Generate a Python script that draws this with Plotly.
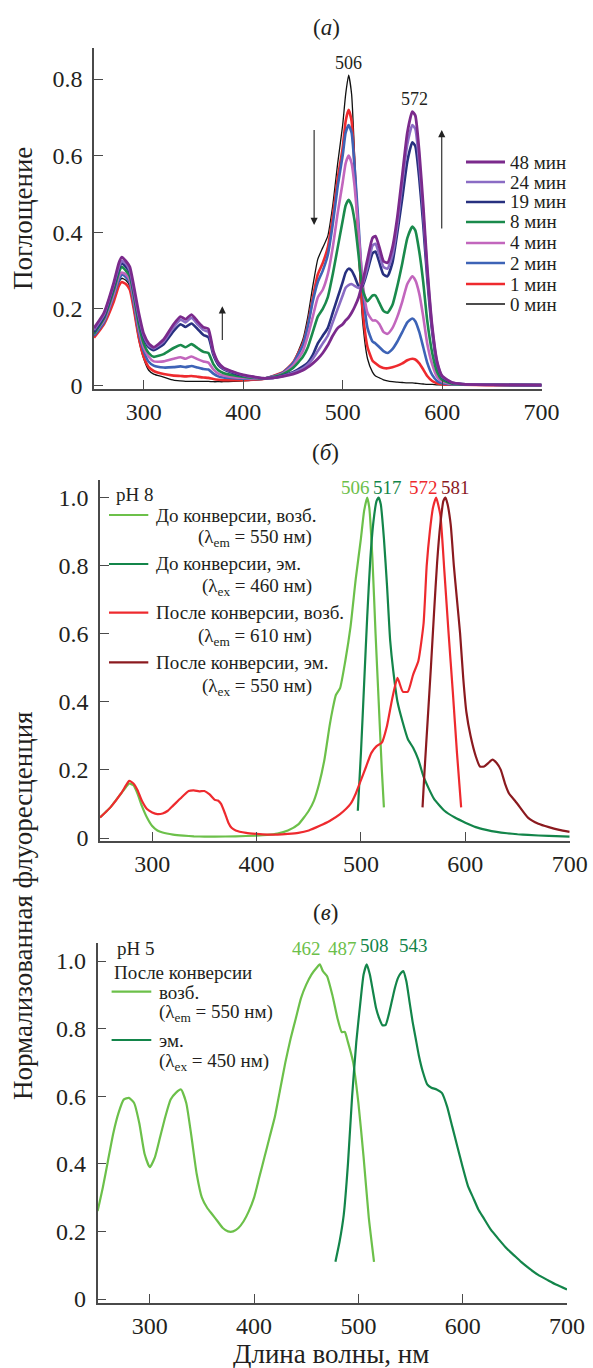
import plotly.graph_objects as go

W, H = 593, 1368
FONT = "Liberation Serif, Times New Roman, Tinos, DejaVu Serif, serif"
TXT = "#231f20"

# ---------------- Panel (a): absorbance ----------------
WL_A = [250, 260, 270, 275, 278, 282, 286, 290, 295, 300, 305, 310, 320, 330, 337, 342, 348, 354, 360, 365,
        370, 375, 380, 390, 400, 410, 420,
        430, 440, 450, 460, 465, 470, 475, 480, 485, 490, 495, 500, 503, 506, 509, 512, 516, 520, 525, 530,
        533, 537, 541, 545, 550, 555, 560, 565, 570, 573, 577, 581, 585, 590, 595, 600, 610, 620, 650, 700]

A_0 = [0.13, 0.165, 0.23, 0.27, 0.28, 0.275, 0.26, 0.2, 0.12, 0.07, 0.04, 0.03, 0.022, 0.014, 0.012, 0.011, 0.011, 0.011, 0.011, 0.011,
       0.01, 0.01, 0.01, 0.011, 0.012, 0.014, 0.017,
       0.025, 0.035, 0.06, 0.12, 0.18, 0.26, 0.33, 0.36, 0.39, 0.47, 0.58, 0.68, 0.76, 0.81, 0.76, 0.6, 0.35, 0.17, 0.07, 0.035,
       0.025, 0.02, 0.015, 0.012, 0.01, 0.009, 0.008, 0.007, 0.007, 0.006, 0.005, 0.004, 0.003, 0.003, 0.002, 0.002, 0.002, 0.002, 0.001, 0.001]
A_1 = [0.125, 0.16, 0.22, 0.26, 0.27, 0.265, 0.25, 0.2, 0.125, 0.075, 0.048, 0.038, 0.03, 0.026, 0.025, 0.024, 0.025, 0.023, 0.021, 0.02,
       0.017, 0.015, 0.014, 0.014, 0.014, 0.015, 0.017,
       0.025, 0.035, 0.06, 0.11, 0.16, 0.23, 0.29, 0.32, 0.36, 0.44, 0.54, 0.62, 0.69, 0.72, 0.69, 0.57, 0.38, 0.2, 0.1, 0.065,
       0.058, 0.05, 0.046, 0.045, 0.048, 0.052, 0.058, 0.066, 0.07, 0.068, 0.058, 0.042, 0.025, 0.012, 0.006, 0.003, 0.002, 0.002, 0.001, 0.001]
A_2 = [0.13, 0.165, 0.235, 0.275, 0.29, 0.283, 0.268, 0.215, 0.14, 0.09, 0.062, 0.052, 0.047, 0.048, 0.05, 0.048, 0.051, 0.047, 0.043, 0.042,
       0.031, 0.024, 0.021, 0.019, 0.018, 0.017, 0.018,
       0.024, 0.034, 0.058, 0.105, 0.155, 0.22, 0.27, 0.3, 0.34, 0.42, 0.52, 0.6, 0.66, 0.68, 0.66, 0.57, 0.42, 0.26, 0.15, 0.115,
       0.11, 0.1, 0.09, 0.085, 0.095, 0.115, 0.14, 0.165, 0.175, 0.168, 0.14, 0.1, 0.06, 0.028, 0.012, 0.006, 0.003, 0.002, 0.002, 0.001]
A_4 = [0.135, 0.17, 0.24, 0.285, 0.295, 0.29, 0.275, 0.225, 0.15, 0.1, 0.075, 0.063, 0.063, 0.07, 0.074, 0.07, 0.076, 0.069, 0.063, 0.06,
       0.042, 0.031, 0.026, 0.022, 0.02, 0.018, 0.018,
       0.023, 0.032, 0.052, 0.09, 0.13, 0.18, 0.23, 0.25, 0.29, 0.36, 0.45, 0.53, 0.58, 0.6, 0.58, 0.52, 0.4, 0.27, 0.19, 0.17,
       0.17, 0.16, 0.14, 0.135, 0.15, 0.18, 0.22, 0.265, 0.285, 0.275, 0.24, 0.18, 0.11, 0.055, 0.022, 0.01, 0.004, 0.003, 0.002, 0.001]
A_8 = [0.135, 0.175, 0.25, 0.295, 0.31, 0.3, 0.285, 0.235, 0.16, 0.11, 0.085, 0.075, 0.082, 0.098, 0.106, 0.1, 0.108, 0.098, 0.088, 0.085,
       0.056, 0.04, 0.033, 0.027, 0.023, 0.02, 0.018,
       0.022, 0.03, 0.046, 0.075, 0.1, 0.14, 0.18, 0.2, 0.23, 0.29, 0.36, 0.43, 0.47, 0.485, 0.47, 0.43, 0.34, 0.25, 0.22, 0.235,
       0.235, 0.215, 0.195, 0.19, 0.21, 0.26, 0.32, 0.385, 0.415, 0.405, 0.35, 0.27, 0.17, 0.085, 0.035, 0.015, 0.005, 0.003, 0.002, 0.001]
A_19 = [0.14, 0.18, 0.26, 0.305, 0.32, 0.31, 0.295, 0.245, 0.175, 0.125, 0.1, 0.092, 0.108, 0.142, 0.16, 0.153, 0.162, 0.148, 0.132, 0.126,
        0.08, 0.054, 0.043, 0.033, 0.026, 0.022, 0.019,
        0.02, 0.026, 0.035, 0.05, 0.06, 0.08, 0.11, 0.13, 0.15, 0.19, 0.23, 0.27, 0.295, 0.305, 0.3, 0.285, 0.26, 0.26, 0.3, 0.345,
        0.35, 0.32, 0.29, 0.285, 0.32, 0.4, 0.49, 0.585, 0.635, 0.625, 0.54, 0.42, 0.28, 0.14, 0.055, 0.022, 0.007, 0.004, 0.002, 0.001]
A_24 = [0.145, 0.185, 0.265, 0.31, 0.325, 0.318, 0.3, 0.25, 0.18, 0.13, 0.105, 0.097, 0.115, 0.152, 0.172, 0.165, 0.177, 0.16, 0.145, 0.14,
        0.086, 0.058, 0.045, 0.035, 0.027, 0.022, 0.019,
        0.02, 0.025, 0.033, 0.045, 0.055, 0.07, 0.09, 0.11, 0.13, 0.165, 0.2, 0.235, 0.255, 0.262, 0.265, 0.26, 0.255, 0.265, 0.31, 0.365,
        0.37, 0.34, 0.31, 0.305, 0.34, 0.42, 0.53, 0.63, 0.68, 0.67, 0.58, 0.45, 0.3, 0.15, 0.06, 0.024, 0.008, 0.004, 0.002, 0.001]
A_48 = [0.15, 0.19, 0.27, 0.32, 0.335, 0.325, 0.31, 0.26, 0.19, 0.135, 0.11, 0.1, 0.12, 0.16, 0.18, 0.173, 0.185, 0.168, 0.152, 0.148,
        0.09, 0.06, 0.047, 0.036, 0.028, 0.023, 0.019,
        0.02, 0.024, 0.03, 0.04, 0.048, 0.058, 0.07, 0.085, 0.105, 0.13, 0.15, 0.16, 0.17, 0.178, 0.19, 0.205, 0.23, 0.27, 0.33, 0.385,
        0.39, 0.36, 0.325, 0.32, 0.36, 0.44, 0.55, 0.66, 0.715, 0.705, 0.61, 0.47, 0.31, 0.155, 0.062, 0.025, 0.008, 0.004, 0.002, 0.001]

SERIES_A = ["0 мин", "1 мин", "2 мин", "4 мин", "8 мин", "19 мин", "24 мин", "48 мин"]
VALUES_A = [A_0, A_1, A_2, A_4, A_8, A_19, A_24, A_48]
COLORS_A = ["#111111", "#ee2a2e", "#3d63b6", "#c266bd", "#1a8a4c", "#27307f", "#8a6cc4", "#7b2a8c"]
WIDTHS_A = [1.3, 2.6, 2.6, 2.6, 2.6, 2.6, 2.6, 2.8]
PEAKS_A = [506, 572]
PEAK_Y_A = [0.841, 0.747]

# ---------------- Panel (b): pH 8 fluorescence ----------------
WL_B1 = [250, 255, 260, 265, 270, 275, 278, 282, 286, 290, 295, 300, 305, 310, 320, 330, 340, 350, 360, 380,
         400, 410, 420, 430, 440, 450, 455, 460, 465, 470, 473, 476, 480, 485, 490, 495, 500, 503, 506, 508,
         511, 514, 517, 520, 522]
B1 = [0.06, 0.075, 0.09, 0.11, 0.13, 0.15, 0.16, 0.155, 0.13, 0.095, 0.06, 0.035, 0.022, 0.016, 0.01, 0.007, 0.005, 0.004, 0.004, 0.005,
      0.007, 0.009, 0.013, 0.022, 0.04, 0.08, 0.11, 0.16, 0.23, 0.33, 0.38, 0.42, 0.44, 0.52, 0.62, 0.76, 0.88, 0.96, 1.0, 0.97,
      0.82, 0.6, 0.4, 0.2, 0.09]
WL_B2 = [497, 500, 503, 506, 509, 512, 515, 517, 519, 522, 525, 528, 531, 535, 540, 545, 550, 555, 560, 565,
         570, 580, 590, 600, 610, 620, 630, 640, 650, 660, 680, 700]
B2 = [0.08, 0.25, 0.45, 0.65, 0.82, 0.93, 0.99, 1.0, 0.98, 0.88, 0.74, 0.58, 0.49, 0.4, 0.34, 0.29, 0.265, 0.23, 0.18, 0.145,
      0.115, 0.08, 0.06, 0.045, 0.032, 0.024, 0.018, 0.014, 0.011, 0.009, 0.006, 0.004]
WL_B3 = [250, 260, 270, 275, 278, 282, 286, 290, 295, 300, 305, 310, 315, 320, 325, 330, 335, 340, 345, 350,
         355, 360, 363, 366, 370, 373, 376, 380, 390, 400, 410, 420, 430, 440, 450, 460, 470, 480, 490, 495,
         500, 505, 510, 515, 520, 525, 530, 535, 540, 545, 550, 555, 560, 563, 566, 569, 572, 576, 580, 584,
         588, 592, 596]
B3 = [0.06, 0.09, 0.13, 0.155, 0.168, 0.16, 0.14, 0.11, 0.085, 0.075, 0.07, 0.072, 0.08, 0.095, 0.11, 0.125, 0.138, 0.14, 0.137, 0.138,
      0.128, 0.112, 0.11, 0.1, 0.07, 0.045, 0.03, 0.022, 0.015, 0.012, 0.01, 0.01, 0.012, 0.015, 0.022, 0.035, 0.05, 0.07, 0.1, 0.13,
      0.17, 0.21, 0.25, 0.27, 0.28, 0.33, 0.41, 0.47, 0.43, 0.43, 0.48, 0.52, 0.63, 0.8, 0.9, 0.97, 1.0, 0.95, 0.78, 0.6,
      0.43, 0.25, 0.09]
WL_B4 = [559, 561, 564, 567, 570, 573, 576, 579, 581, 583, 586, 589, 592, 595, 598, 601, 605, 610, 614, 618,
         622, 626, 630, 634, 638, 642, 646, 650, 660, 670, 680, 690, 700]
B4 = [0.09, 0.2, 0.35, 0.5, 0.66, 0.81, 0.92, 0.99, 1.0, 0.98, 0.92, 0.8, 0.7, 0.6, 0.47, 0.37, 0.3, 0.24, 0.21, 0.21,
      0.22, 0.23, 0.22, 0.2, 0.16, 0.13, 0.115, 0.1, 0.06, 0.042, 0.032, 0.024, 0.018]

SERIES_B = ["До конверсии, возб.", "До конверсии, эм.", "После конверсии, возб.", "После конверсии, эм."]
SUBS_B = ["(λ<sub>em</sub> = 550 нм)", "(λ<sub>ex</sub> = 460 нм)", "(λ<sub>em</sub> = 610 нм)", "(λ<sub>ex</sub> = 550 нм)"]
COLORS_B = ["#6cc04a", "#13854a", "#ee2a2e", "#8b1a1f"]
PEAK_LABELS_B = ["506", "517", "572", "581"]
PEAK_LABEL_X_B = [494.8, 525.6, 560.0, 591.0]

# ---------------- Panel (c): pH 5 fluorescence ----------------
WL_C1 = [250, 255, 260, 265, 270, 275, 280, 285, 290, 295, 300, 305, 310, 315, 320, 325, 330, 335, 340, 345,
         350, 355, 360, 365, 370, 375, 380, 385, 390, 395, 400, 405, 410, 415, 420, 425, 430, 435, 440, 445,
         450, 455, 460, 463, 466, 470, 475, 480, 484, 487, 490, 495, 500, 505, 510, 515]
C1 = [0.26, 0.33, 0.41, 0.49, 0.55, 0.59, 0.595, 0.58, 0.52, 0.43, 0.39, 0.42, 0.48, 0.54, 0.59, 0.61, 0.62, 0.58, 0.48, 0.37,
      0.3, 0.27, 0.25, 0.23, 0.21, 0.2, 0.2, 0.21, 0.23, 0.26, 0.3, 0.36, 0.42, 0.48, 0.54, 0.62, 0.7, 0.77, 0.83, 0.89,
      0.93, 0.96, 0.98, 0.99, 0.97, 0.955, 0.9, 0.83, 0.79, 0.79, 0.76, 0.7, 0.58, 0.42, 0.24, 0.11]
WL_C2 = [478, 482, 486, 490, 494, 498, 502, 505, 508, 511, 514, 517, 520, 523, 526, 529, 532, 535, 538, 541,
         543, 546, 549, 552, 555, 558, 562, 566, 570, 575, 580, 585, 590, 595, 600, 605, 610, 615, 620, 627,
         635, 642, 649, 656, 664, 672, 682, 690, 700]
C2 = [0.11, 0.17, 0.25, 0.4, 0.6, 0.76, 0.88, 0.96, 0.99, 0.96, 0.91, 0.86, 0.83, 0.81, 0.81, 0.84, 0.88, 0.92, 0.95, 0.965,
      0.97, 0.94, 0.88, 0.82, 0.77, 0.72, 0.67, 0.635, 0.625, 0.62, 0.61, 0.57, 0.51, 0.45, 0.39, 0.335, 0.3, 0.265, 0.24, 0.205,
      0.175, 0.15, 0.13, 0.11, 0.09, 0.072, 0.055, 0.042, 0.028]

COLORS_C = ["#6cc04a", "#13854a"]
PEAK_LABELS_C = ["462", "487", "508", "543"]
PEAK_LABEL_X_C = [450.3, 484.7, 515.6, 552.9]
PEAK_LABEL_Y_C = [1.038, 1.038, 1.047, 1.047]
PEAK_COLORS_C = ["#6cc04a", "#6cc04a", "#13854a", "#13854a"]

# ---------------- Ticks ----------------
X_TICKS = [300, 400, 500, 600, 700]
Y_TICKS_A = [0, 0.2, 0.4, 0.6, 0.8]
Y_TEXT_A = ["0", "0.2", "0.4", "0.6", "0.8"]
Y_TICKS_BC = [0, 0.2, 0.4, 0.6, 0.8, 1.0]
Y_TEXT_BC = ["0", "0.2", "0.4", "0.6", "0.8", "1.0"]


def px(x):
    return x / W


def py(y):
    return 1 - y / H


fig = go.Figure()


def add(xs, ys, color, width, xa, ya):
    fig.add_trace(go.Scatter(x=xs, y=ys, mode="lines",
                             line=dict(color=color, width=width, shape="spline", smoothing=0.5),
                             xaxis=xa, yaxis=ya, showlegend=False, hoverinfo="skip"))


for vals, col, w in zip(VALUES_A, COLORS_A, WIDTHS_A):
    add(WL_A, vals, col, w, "x", "y")

add(WL_B1, B1, COLORS_B[0], 2.2, "x2", "y2")
add(WL_B2, B2, COLORS_B[1], 2.2, "x2", "y2")
add(WL_B3, B3, COLORS_B[2], 2.2, "x2", "y2")
add(WL_B4, B4, COLORS_B[3], 2.2, "x2", "y2")

add(WL_C1, C1, COLORS_C[0], 2.2, "x3", "y3")
add(WL_C2, C2, COLORS_C[1], 2.2, "x3", "y3")

axis_common = dict(showline=True, linecolor="#4a4a4a", linewidth=1.5, ticks="inside", ticklen=9,
                   tickwidth=1.3, tickcolor="#4a4a4a", showgrid=False, zeroline=False, automargin=False,
                   tickfont=dict(family=FONT, size=24, color=TXT))
yextra = dict(ticklabelstandoff=5)

fig.update_layout(
    template="none",
    width=W, height=H, autosize=False,
    margin=dict(l=0, r=0, t=0, b=0, pad=0, autoexpand=False),
    paper_bgcolor="white", plot_bgcolor="white",
    font=dict(family=FONT, color=TXT),
    xaxis=dict(domain=[px(94), px(541.6)], range=[250, 700], anchor="y", tickvals=X_TICKS, **axis_common),
    yaxis=dict(domain=[py(389), py(48)], range=[-0.009, 0.881], anchor="x",
               tickvals=Y_TICKS_A, ticktext=Y_TEXT_A, **axis_common, **yextra),
    xaxis2=dict(domain=[px(100), px(569.7)], range=[250, 700], anchor="y2", tickvals=X_TICKS, **axis_common),
    yaxis2=dict(domain=[py(841), py(480)], range=[-0.0088, 1.0514], anchor="x2",
                tickvals=Y_TICKS_BC, ticktext=Y_TEXT_BC, **axis_common, **yextra),
    xaxis3=dict(domain=[px(97.6), px(567)], range=[250, 700], anchor="y3", tickvals=X_TICKS, **axis_common),
    yaxis3=dict(domain=[py(1303), py(943)], range=[-0.0118, 1.0533], anchor="x3",
                tickvals=Y_TICKS_BC, ticktext=Y_TEXT_BC, **axis_common, **yextra),
)

ann = []
shapes = []


def text(x, y, s, size=19, color=TXT, xanchor="left", yanchor="middle", angle=0):
    ann.append(dict(x=px(x), y=py(y), xref="paper", yref="paper", text=s, showarrow=False,
                    xanchor=xanchor, yanchor=yanchor, textangle=angle,
                    font=dict(family=FONT, size=size, color=color)))


# panel titles
text(326, 27, "(<i>а</i>)", size=23, xanchor="center")
text(325, 453, "(<i>б</i>)", size=23, xanchor="center")
text(325, 912, "(<i>в</i>)", size=23, xanchor="center")

# axis titles
text(23, 219, "Поглощение", size=27, xanchor="center", angle=-90)
text(23, 906, "Нормализованная флуоресценция", size=27, xanchor="center", angle=-90)
text(331, 1354, "Длина волны, нм", size=27, xanchor="center")

# panel (a) legend (top to bottom: 48 ... 0 min)
LEG_Y_A = [162, 182, 202, 222, 243, 263, 284, 304]
for i, yy in enumerate(LEG_Y_A):
    k = len(SERIES_A) - 1 - i
    shapes.append(dict(type="line", xref="paper", yref="paper", x0=px(466), x1=px(505), y0=py(yy), y1=py(yy),
                       line=dict(color=COLORS_A[k], width=WIDTHS_A[k])))
    text(507.5, yy, SERIES_A[k], size=19)

# panel (a) peak labels
for pk, yv in zip(PEAKS_A, PEAK_Y_A):
    ann.append(dict(x=pk, y=yv, xref="x", yref="y", text=str(pk), showarrow=False,
                    xanchor="center", yanchor="middle", font=dict(family=FONT, size=18, color=TXT)))

# panel (a) arrows
for (xv, y0, y1) in [(379, 0.115, 0.207), (471.3, 0.671, 0.419), (599.6, 0.406, 0.667)]:
    ann.append(dict(x=xv, y=y1, ax=xv, ay=y0, xref="x", yref="y", axref="x", ayref="y", text="",
                    showarrow=True, arrowhead=2, arrowsize=1.3, arrowwidth=1.1, arrowcolor="#222"))

# panel (b) legend
text(113.5, 494, "pH 8", size=19)
LEG_Y_B = [515, 564, 612.7, 662.3]
SUB_Y_B = [538.3, 586.7, 637.3, 686.7]
for i in range(4):
    shapes.append(dict(type="line", xref="paper", yref="paper", x0=px(109), x1=px(148.3),
                       y0=py(LEG_Y_B[i]), y1=py(LEG_Y_B[i]), line=dict(color=COLORS_B[i], width=2.2)))
    text(153.5, LEG_Y_B[i], SERIES_B[i], size=19)
    text(314, SUB_Y_B[i], SUBS_B[i], size=19, xanchor="right")

# panel (b) peak labels
for lab, xv, col in zip(PEAK_LABELS_B, PEAK_LABEL_X_B, COLORS_B):
    ann.append(dict(x=xv, y=1.028, xref="x2", yref="y2", text=lab, showarrow=False,
                    xanchor="center", yanchor="middle", font=dict(family=FONT, size=19, color=col)))

# panel (c) legend
text(115, 949, "pH 5", size=19)
text(111.6, 972, "После конверсии", size=19)
shapes.append(dict(type="line", xref="paper", yref="paper", x0=px(111.6), x1=px(151.3), y0=py(991.7), y1=py(991.7),
                   line=dict(color=COLORS_C[0], width=2.2)))
text(157, 992, "возб.", size=19)
text(157, 1013, "(λ<sub>em</sub> = 550 нм)", size=19)
shapes.append(dict(type="line", xref="paper", yref="paper", x0=px(111.6), x1=px(151.3), y0=py(1040), y1=py(1040),
                   line=dict(color=COLORS_C[1], width=2.2)))
text(157, 1040, "эм.", size=19)
text(157, 1062, "(λ<sub>ex</sub> = 450 нм)", size=19)

# panel (c) peak labels
for lab, xv, yv, col in zip(PEAK_LABELS_C, PEAK_LABEL_X_C, PEAK_LABEL_Y_C, PEAK_COLORS_C):
    ann.append(dict(x=xv, y=yv, xref="x3", yref="y3", text=lab, showarrow=False,
                    xanchor="center", yanchor="middle", font=dict(family=FONT, size=19, color=col)))

fig.update_layout(annotations=ann, shapes=shapes)
fig.write_html("out.html", config={"displayModeBar": False},
               post_script="document.body.style.margin='0';document.body.style.overflow='hidden';")
